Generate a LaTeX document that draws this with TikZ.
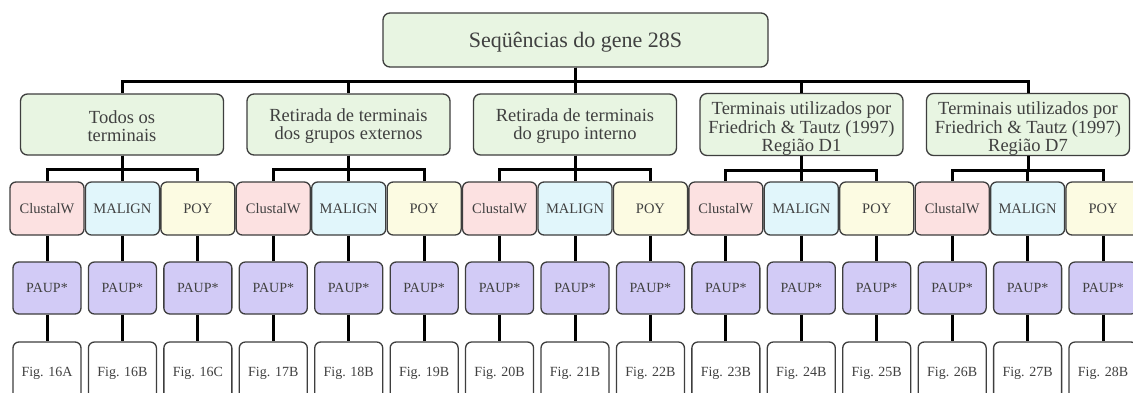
\documentclass[tikz,border=0pt]{standalone}
\usepackage{fontspec}
\setmainfont{Liberation Serif}
\definecolor{greenfill}{HTML}{E8F5E2}
\definecolor{clusfill}{HTML}{FCE1E1}
\definecolor{malfill}{HTML}{E1F6FB}
\definecolor{poyfill}{HTML}{FCFBE2}
\definecolor{paupfill}{HTML}{D2CBF6}
\definecolor{bordergray}{HTML}{3E3E3E}
\definecolor{textgray}{HTML}{404040}
\begin{document}
\begin{tikzpicture}[x=1pt,y=-1pt,
  box/.style={draw=bordergray, line width=1.3pt, rounded corners=7pt, text=textgray, align=center, inner sep=0pt},
  topbox/.style={box, fill=greenfill, minimum width=385pt, minimum height=54pt, font=\fontsize{22}{24}\selectfont},
  grpbox/.style={box, fill=greenfill, minimum width=203pt, minimum height=61pt, font=\fontsize{18.5}{18.5}\selectfont},
  progbox/.style={box, rounded corners=6pt, minimum width=74pt, minimum height=53pt, font=\fontsize{14.5}{16}\selectfont},
  clus/.style={progbox, fill=clusfill},
  malign/.style={progbox, fill=malfill},
  poy/.style={progbox, fill=poyfill},
  paupbox/.style={box, rounded corners=6pt, fill=paupfill, minimum width=68pt, minimum height=52pt, font=\fontsize{14}{16}\selectfont},
  figbox/.style={box, rounded corners=6pt, fill=white, minimum width=68pt, minimum height=62pt, font=\fontsize{14}{16}\selectfont},
  conn/.style={draw=black, line width=3pt}
]
\clip (0,0) rectangle (1133,392);
\fill[white] (0,0) rectangle (1133,392);

\node[topbox] (top) at (575.5,40) {\rule{0pt}{19pt}Seqüências do gene 28S};

\node[grpbox] (g1) at (122,124.5) {\rule{0pt}{16pt}Todos os\\terminais};
\node[grpbox] (g2) at (348.5,124.5) {\rule{0pt}{16pt}Retirada de terminais\\dos grupos externos};
\node[grpbox] (g3) at (575,124.5) {\rule{0pt}{16pt}Retirada de terminais\\do grupo interno};
\node[grpbox] (g4) at (801.5,124.5) {\rule{0pt}{21pt}Terminais utilizados por\\Friedrich \& Tautz (1997)\\Região D1};
\node[grpbox] (g5) at (1028,124.5) {\rule{0pt}{21pt}Terminais utilizados por\\Friedrich \& Tautz (1997)\\Região D7};

\foreach \i/\sty/\lbl/\fig in {0/clus/ClustalW/16A, 1/malign/MALIGN/16B, 2/poy/POY/16C,
  3/clus/ClustalW/17B, 4/malign/MALIGN/18B, 5/poy/POY/19B,
  6/clus/ClustalW/20B, 7/malign/MALIGN/21B, 8/poy/POY/22B,
  9/clus/ClustalW/23B, 10/malign/MALIGN/24B, 11/poy/POY/25B,
  12/clus/ClustalW/26B, 13/malign/MALIGN/27B, 14/poy/POY/28B}{
  \pgfmathsetmacro\xx{47+75.43*\i}
  \node[\sty] (c\i) at (\xx,208.5) {\lbl};
  \node[paupbox] (p\i) at (\xx,288) {PAUP*};
  \node[figbox] (f\i) at (\xx,373) {Fig. \fig};
}

\foreach \g in {1,...,5}{
  \draw[conn] (top.south) -- ++(0,14) -| (g\g.north);
}
\foreach \i in {0,...,14}{
  \pgfmathtruncatemacro\g{int(\i/3)+1}
  \draw[conn] (g\g.south) -- ++(0,14) -| (c\i.north);
  \draw[conn] (c\i.south) -- (p\i.north);
  \draw[conn] (p\i.south) -- (f\i.north);
}
\end{tikzpicture}
\end{document}
